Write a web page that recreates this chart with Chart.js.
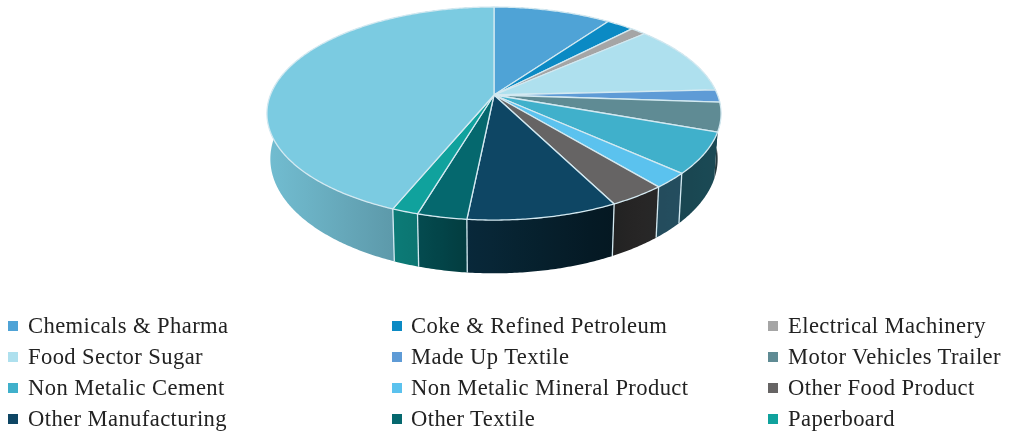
<!DOCTYPE html>
<html>
<head>
<meta charset="utf-8">
<title>Pie</title>
<script src="https://cdn.jsdelivr.net/npm/chart.js@4"></script>
<style>
  html, body { margin: 0; padding: 0; background: #fff; }
  #wrap { position: relative; width: 1012px; height: 434px; overflow: hidden; }
  #mycanvas { position: absolute; left: 0; top: 0; }
  .key { position: absolute; font: 22.6px "Liberation Serif", serif; letter-spacing: 0.4px; color: #222; line-height: 26px; white-space: nowrap; }
  .key i { position: absolute; top: 8px; width: 10px; height: 10px; }
</style>
</head>
<body>
<div id="wrap">
  <canvas id="mycanvas" width="1012" height="434"></canvas>
</div>
<script>
var categories = [
  "Chemicals & Pharma", "Coke & Refined Petroleum", "Electrical Machinery",
  "Food Sector Sugar", "Made Up Textile", "Motor Vehicles Trailer",
  "Non Metalic Cement", "Non Metalic Mineral Product", "Other Food Product",
  "Other Manufacturing", "Other Textile", "Paperboard", "Others"
];
var shares = [9.9, 2.3, 1.3, 10.7, 1.9, 4.4, 6.2, 2.3, 3.5, 9.1, 3.0, 1.6, 43.8];
var colours = [
  "#4fa3d6", "#0b8ac4", "#a5a5a5", "#aee0ee", "#5e9bd6", "#5f8b94", "#40b0cb",
  "#5bc2ee", "#666464", "#0e4664", "#05686e", "#10a29d", "#7bcbe1"
];
// the last slice has no entry in the key
var keyCount = 12;

// perspective of the disc
var cx = 494, cy = 95, rx = 223.6, ry = 103.3, tilt = 0.174, depth = 44, taper = 0.985;
var edge = "#d3e9f1";

function topPoint(angle) {
  var w = 1 - tilt * Math.sin(angle);
  return [cx + rx * Math.cos(angle) / w, cy + ry * Math.sin(angle) / w];
}
function lowPoint(angle) {
  var w = 1 - tilt * Math.sin(angle);
  return [cx + taper * rx * Math.cos(angle) / w, cy + (ry * Math.sin(angle) + depth) / w];
}
function ringAngles(a0, a1) {
  var list = [], n = Math.max(2, Math.ceil((a1 - a0) / 0.01));
  for (var i = 0; i <= n; i++) list.push(a0 + (a1 - a0) * i / n);
  return list;
}

// how dark the side wall gets from left to right
var shadeX = [270, 390, 420, 466, 610, 640, 720];
var shadeF = [0.93, 0.76, 0.72, 0.58, 0.33, 0.38, 0.42];
function shadeAt(x) {
  if (x <= shadeX[0]) return shadeF[0];
  for (var i = 1; i < shadeX.length; i++) {
    if (x <= shadeX[i]) {
      return shadeF[i - 1] + (shadeF[i] - shadeF[i - 1]) * (x - shadeX[i - 1]) / (shadeX[i] - shadeX[i - 1]);
    }
  }
  return shadeF[shadeF.length - 1];
}
function darken(hex, f) {
  var n = parseInt(hex.slice(1), 16);
  return "rgb(" + Math.round((n >> 16) * f) + "," + Math.round(((n >> 8) & 255) * f) + "," + Math.round((n & 255) * f) + ")";
}

var pie3d = {
  id: "pie3d",
  beforeDatasetDraw: function (chart, args) {
    var ctx = chart.ctx, arcs = args.meta.data;
    ctx.save();
    ctx.lineJoin = "round";

    // walls first, the top covers whatever faces away
    arcs.forEach(function (arc, i) {
      var angles = ringAngles(arc.startAngle, arc.endAngle);
      var top = angles.map(topPoint), low = angles.map(lowPoint).reverse();
      var xs = top.concat(low).map(function (p) { return p[0]; });
      var x0 = Math.min.apply(null, xs), x1 = Math.max.apply(null, xs);
      var g = ctx.createLinearGradient(x0, 0, x1 + 0.01, 0);
      for (var s = 0; s <= 6; s++) {
        g.addColorStop(s / 6, darken(colours[i], shadeAt(x0 + (x1 - x0) * s / 6)));
      }
      ctx.beginPath();
      top.concat(low).forEach(function (p, j) { j ? ctx.lineTo(p[0], p[1]) : ctx.moveTo(p[0], p[1]); });
      ctx.closePath();
      ctx.fillStyle = g;
      ctx.fill();
    });

    // seams between the wall pieces, front part only
    ctx.strokeStyle = edge;
    ctx.lineWidth = 1.3;
    arcs.forEach(function (arc) {
      if (Math.sin(arc.endAngle) < 0.5) return;
      var a = topPoint(arc.endAngle), b = lowPoint(arc.endAngle);
      ctx.beginPath();
      ctx.moveTo(a[0], a[1]);
      ctx.lineTo(b[0], b[1]);
      ctx.stroke();
    });

    // top of the disc
    arcs.forEach(function (arc, i) {
      ctx.beginPath();
      ctx.moveTo(cx, cy);
      ringAngles(arc.startAngle, arc.endAngle).map(topPoint).forEach(function (p) { ctx.lineTo(p[0], p[1]); });
      ctx.closePath();
      ctx.fillStyle = colours[i];
      ctx.fill();
      ctx.stroke();
    });
    ctx.restore();
    return false;
  }
};

var new_chart = new Chart(document.getElementById("mycanvas"), {
  type: "pie",
  data: {
    labels: categories,
    datasets: [{ data: shares, backgroundColor: colours }]
  },
  options: {
    responsive: false,
    animation: false,
    plugins: { legend: { display: false }, tooltip: { enabled: false } }
  },
  plugins: [pie3d]
});

// key under the pie, three columns
var keyX = [28, 411, 788], boxX = [8, 392, 768], keyY = [313, 344, 375, 406];
var wrap = document.getElementById("wrap");
for (var i = 0; i < keyCount; i++) {
  var key = document.createElement("div");
  key.className = "key";
  key.style.left = keyX[i % 3] + "px";
  key.style.top = keyY[Math.floor(i / 3)] + "px";
  var box = document.createElement("i");
  box.style.background = colours[i];
  box.style.left = (boxX[i % 3] - keyX[i % 3]) + "px";
  key.appendChild(box);
  key.appendChild(document.createTextNode(categories[i]));
  wrap.appendChild(key);
}
</script>
</body>
</html>
